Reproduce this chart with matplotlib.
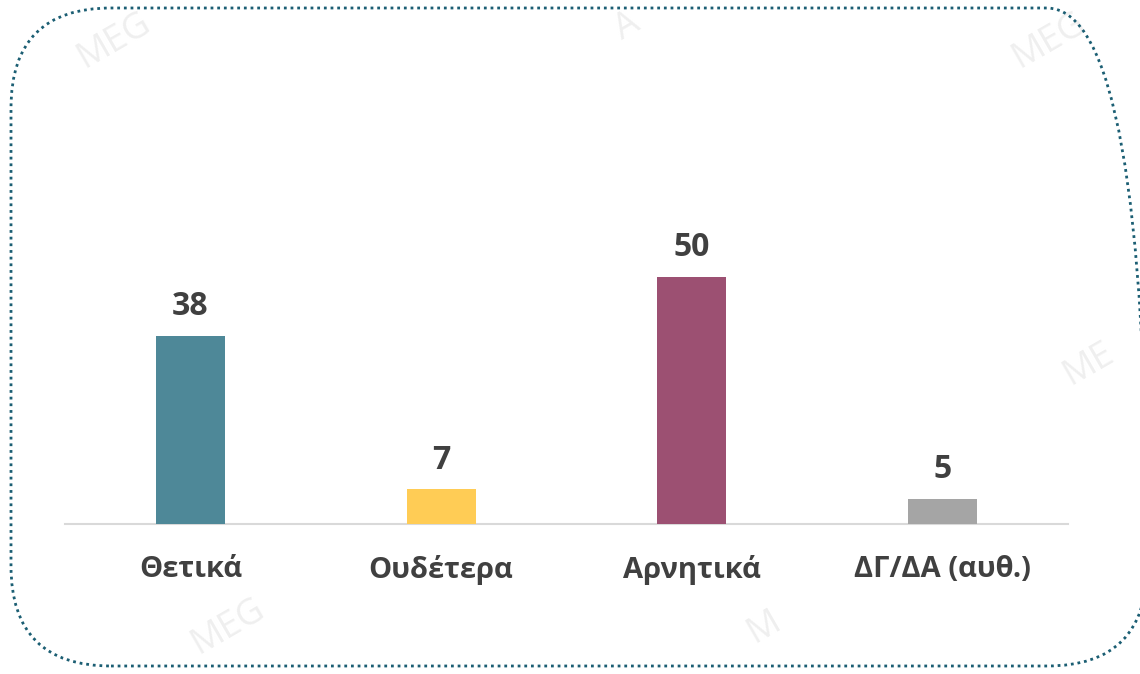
import matplotlib.pyplot as plt
from matplotlib.patches import FancyBboxPatch
from matplotlib.transforms import IdentityTransform

categories = ['Θετικά', 'Ουδέτερα', 'Αρνητικά', 'ΔΓ/ΔΑ (αυθ.)']
values = [38, 7, 50, 5]
colors = ['#4E8898', '#FFCC55', '#9C5072', '#A5A5A5']

plt.rcParams['font.family'] = ['Open Sans', 'DejaVu Sans']
text_color = '#404040'

fig = plt.figure(figsize=(11.4, 6.74), dpi=100)

# faint watermark around the edges
wm = [(0.10, 0.94, 'MEG', 30), (0.55, 0.96, 'A', 30), (0.92, 0.94, 'MEG', 30),
      (0.955, 0.46, 'ME', 30), (0.20, 0.07, 'MEG', 30), (0.67, 0.07, 'M', 30)]
for x, y, s, r in wm:
    fig.text(x, y, s, fontsize=26, color='#EFEFEF', rotation=r,
             ha='center', va='center', zorder=0)

# dotted rounded frame (pixel coordinates)
frame = FancyBboxPatch((11, 8), 1136, 658, boxstyle='round,pad=0,rounding_size=100',
                       transform=IdentityTransform(), fill=False,
                       edgecolor='#1B5E73', linewidth=2, linestyle=(0, (1, 1.4)))
fig.patches.append(frame)

ax = fig.add_axes([65 / 1140, 150 / 674, 1003 / 1140, 494 / 674])
ax.set_facecolor('none')
x = range(len(categories))
bars = ax.bar(x, values, width=0.275, color=colors, zorder=3)

for b, v in zip(bars, values):
    ax.text(b.get_x() + b.get_width() / 2, v + 2.6, str(v), ha='center', va='bottom',
            fontsize=23, fontweight='bold', color=text_color)

ax.set_xlim(-0.5, 3.5)
ax.set_ylim(0, 100)
ax.set_xticks(list(x))
ax.set_xticklabels(categories, fontsize=21, fontweight='bold', color=text_color)
ax.tick_params(axis='x', length=0, pad=22)
ax.set_yticks([])
for s in ['top', 'left', 'right']:
    ax.spines[s].set_visible(False)
ax.spines['bottom'].set_color('#D9D9D9')
ax.spines['bottom'].set_linewidth(1.5)

fig.savefig('out.png', dpi=100)
